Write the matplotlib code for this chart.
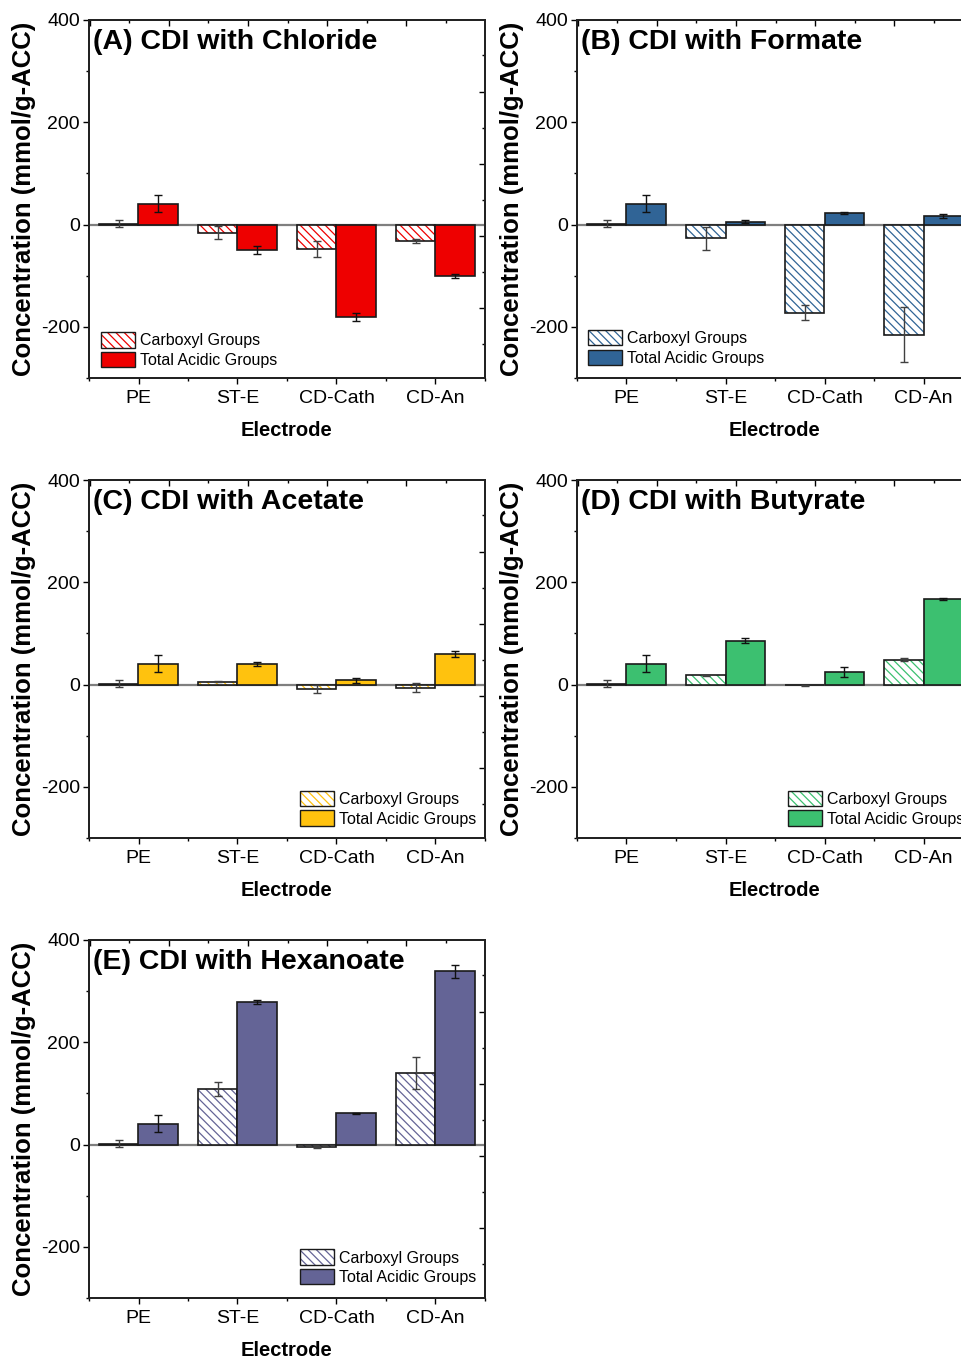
import matplotlib
matplotlib.use("Agg")
import matplotlib.pyplot as plt
import numpy as np
from matplotlib.patches import Patch
from matplotlib.legend_handler import HandlerTuple
from matplotlib.ticker import MultipleLocator

plt.rcParams['font.family'] = ['Liberation Sans', 'DejaVu Sans']
plt.rcParams['hatch.linewidth'] = 0.9
plt.rcParams['axes.unicode_minus'] = False

categories = ["PE", "ST-E", "CD-Cath", "CD-An"]
panel_titles = ["(A) CDI with Chloride", "(B) CDI with Formate", "(C) CDI with Acetate",
                "(D) CDI with Butyrate", "(E) CDI with Hexanoate"]
series_labels = ["Carboxyl Groups", "Total Acidic Groups"]

chloride_carboxyl = [2, -16, -48, -33]
chloride_carboxyl_err = [7, 13, 16, 4]
chloride_total = [41, -50, -180, -101]
chloride_total_err = [17, 8, 8, 4]

formate_carboxyl = [2, -27, -172, -215]
formate_carboxyl_err = [7, 23, 15, 53]
formate_total = [41, 6, 23, 16]
formate_total_err = [17, 2, 2, 4]

acetate_carboxyl = [2, 6, -8, -6]
acetate_carboxyl_err = [7, 1, 8, 9]
acetate_total = [41, 41, 8, 59]
acetate_total_err = [17, 4, 4, 6]

butyrate_carboxyl = [2, 18, -1, 49]
butyrate_carboxyl_err = [7, 1, 1, 2]
butyrate_total = [41, 86, 24, 168]
butyrate_total_err = [17, 5, 10, 2]

hexanoate_carboxyl = [2, 108, -5, 140]
hexanoate_carboxyl_err = [7, 14, 2, 32]
hexanoate_total = [41, 279, 61, 339]
hexanoate_total_err = [17, 4, 1, 13]

colors = ["#EE0000", "#306496", "#FFC20E", "#3CC070", "#646496"]

panels = [
    (chloride_carboxyl, chloride_carboxyl_err, chloride_total, chloride_total_err),
    (formate_carboxyl, formate_carboxyl_err, formate_total, formate_total_err),
    (acetate_carboxyl, acetate_carboxyl_err, acetate_total, acetate_total_err),
    (butyrate_carboxyl, butyrate_carboxyl_err, butyrate_total, butyrate_total_err),
    (hexanoate_carboxyl, hexanoate_carboxyl_err, hexanoate_total, hexanoate_total_err),
]

W, H = 962, 1358
fig = plt.figure(figsize=(W / 100, H / 100), dpi=100)

ax_w = 396 / W
ax_h = 358 / H
lefts = [89 / W, 577 / W, 89 / W, 577 / W, 89 / W]
bottoms = [1 - 378 / H, 1 - 378 / H, 1 - 838 / H, 1 - 838 / H, 1 - 1298 / H]
legend_locs = [("lower left", (0.03, 0.028)), ("lower left", (0.028, 0.034)),
               ("lower right", (0.977, 0.032)), ("lower right", (0.977, 0.032)),
               ("lower right", (0.977, 0.036))]

x = np.arange(1, len(categories) + 1)
bw = 0.4
edge = "#1a1a1a"

for i, (carb, carb_err, tot, tot_err) in enumerate(panels):
    ax = fig.add_axes([lefts[i], bottoms[i], ax_w, ax_h])
    c = colors[i]
    ax.axhline(0, color="#7f7f7f", lw=1.6, zorder=1)
    # carboxyl: hatched
    ax.bar(x - bw / 2, carb, width=bw, facecolor="white", edgecolor=c, hatch="\\\\\\\\",
           linewidth=0, zorder=2)
    ax.bar(x - bw / 2, carb, width=bw, fill=False, edgecolor=edge, linewidth=1.2, zorder=3)
    ax.bar(x + bw / 2, tot, width=bw, facecolor=c, edgecolor=edge, linewidth=1.2, zorder=3)
    ax.errorbar(x - bw / 2, carb, yerr=carb_err, fmt="none", ecolor="#404040",
                elinewidth=1.0, capsize=2.8, capthick=1.0, zorder=4)
    ax.errorbar(x + bw / 2, tot, yerr=tot_err, fmt="none", ecolor="#111111",
                elinewidth=1.0, capsize=2.8, capthick=1.0, zorder=4)

    ax.set_xlim(0.5, 4.5)
    ax.set_ylim(-300, 400)
    ax.set_xticks(x)
    ax.set_xticklabels(categories, fontsize=14)
    ax.xaxis.set_minor_locator(MultipleLocator(0.5))
    ax.set_yticks([-200, 0, 200, 400])
    ax.yaxis.set_minor_locator(MultipleLocator(100))
    ax.tick_params(axis="both", which="major", direction="out", length=4, width=1,
                   labelsize=14, top=False, right=False)
    ax.tick_params(axis="x", which="major", pad=4.5)
    ax.tick_params(axis="y", which="major", pad=2.5)
    ax.tick_params(axis="both", which="minor", direction="out", length=2.5, width=1,
                   top=False, right=False)
    for s in ax.spines.values():
        s.set_linewidth(1.2)
        s.set_color("#222222")

    ax.set_ylabel("Concentration (mmol/g-ACC)", fontsize=18.5, fontweight="bold")
    ax.yaxis.set_label_coords(-0.135, 0.5)
    ax.set_xlabel("Electrode", fontsize=14.5, fontweight="bold")
    ax.xaxis.set_label_coords(0.5, -0.12)
    ax.text(0.01, 0.975, panel_titles[i], transform=ax.transAxes, fontsize=20.5,
            fontweight="bold", va="top", ha="left")

    # secondary tick scales on right and top (inward)
    axr = ax.twinx()
    axr.set_ylim(-4.93, 4.98)
    axr.yaxis.set_major_locator(MultipleLocator(2, offset=1))
    axr.yaxis.set_minor_locator(MultipleLocator(2))
    axr.tick_params(axis="y", which="major", direction="in", length=4, width=1, labelright=False)
    axr.tick_params(axis="y", which="minor", direction="in", length=2.5, width=1)
    axt = ax.twiny()
    axt.set_xlim(-0.015, 9.985)
    axt.xaxis.set_major_locator(MultipleLocator(2))
    axt.xaxis.set_minor_locator(MultipleLocator(1))
    axt.tick_params(axis="x", which="major", direction="in", length=4, width=1, labeltop=False)
    axt.tick_params(axis="x", which="minor", direction="in", length=2.5, width=1)
    for a in (axr, axt):
        for s in a.spines.values():
            s.set_linewidth(1.2)
            s.set_color("#222222")

    h1 = (Patch(facecolor="white", edgecolor=c, hatch="\\\\\\\\", linewidth=0),
          Patch(fill=False, edgecolor=edge, linewidth=1.0))
    h2 = Patch(facecolor=c, edgecolor=edge, linewidth=1.0)
    loc, anchor = legend_locs[i]
    axt.legend([h1, h2], series_labels, loc=loc, bbox_to_anchor=anchor,
               bbox_transform=ax.transAxes, frameon=False, fontsize=11.5,
               handlelength=2.13, handleheight=1.1, handletextpad=0.3,
               labelspacing=0.22, borderpad=0, borderaxespad=0,
               handler_map={tuple: HandlerTuple(ndivide=1)})

fig.savefig("out.png", dpi=100)
